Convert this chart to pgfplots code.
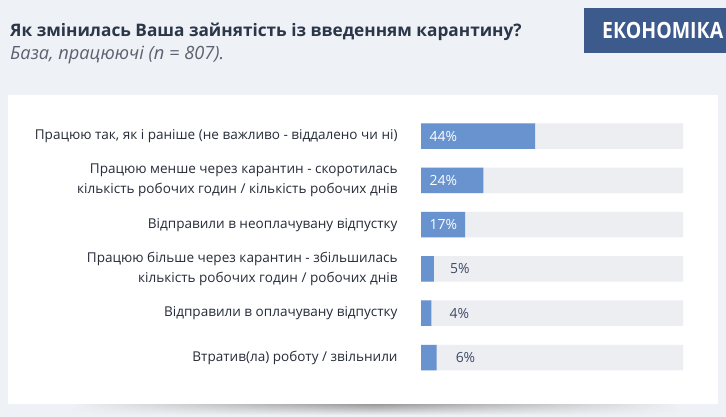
\documentclass[border=0pt]{standalone}
\usepackage{fontspec}
\setmainfont{Open Sans}
\newfontfamily\badgefont[FakeStretch=0.87]{Open Sans}
\usepackage{pgfplots}
\pgfplotsset{compat=1.18}
\usetikzlibrary{fadings}
\definecolor{bg}{HTML}{EEF1F5}
\definecolor{track}{HTML}{ECEEF2}
\definecolor{barblue}{HTML}{6893CE}
\definecolor{badge}{HTML}{3C5A8C}
\definecolor{titlec}{HTML}{2B3648}
\definecolor{subc}{HTML}{5A6270}
\definecolor{labc}{HTML}{262C38}
\definecolor{pctc}{HTML}{3E4A66}
\begin{document}
\begin{tikzpicture}
\useasboundingbox (0,0) rectangle (726bp,417bp);
\fill[bg] (0,0) rectangle (726bp,417bp);
\shade[left color=bg, right color=bg, middle color=black!40, path fading=south] (70bp,2bp) rectangle (680bp,13bp);
\fill[white] (8bp,13bp) rectangle (718bp,322bp);
\fill[badge] (584bp,364bp) rectangle (726bp,409bp);
\node[anchor=west, inner sep=0, text=white] at (602bp,386.5bp) {\badgefont\bfseries\fontsize{22.5}{22}\selectfont ЕКОНОМІКА};
\node[anchor=base west, inner sep=0, text=titlec] at (10bp,380.5bp) {\bfseries\fontsize{17.3}{20}\selectfont Як змінилась Ваша зайнятість із введенням карантину?};
\node[anchor=base west, inner sep=0, text=subc] at (10bp,357.2bp) {\itshape\fontsize{18.3}{20}\selectfont База, працюючі (n = 807).};
\begin{axis}[
  at={(552bp,170.2bp)}, anchor=center,
  scale only axis, width=262bp, height=265.7bp,
  xmin=0, xmax=101, ymin=-0.5, ymax=5.5, y dir=reverse,
  axis line style={draw=none}, tick style={draw=none},
  xtick=\empty, ytick={0,1,2,3,4,5},
  yticklabels={
    {Працюю так, як і раніше (не важливо - віддалено чи ні)},
    {Працюю менше через карантин - скоротилась\\кількість робочих годин / кількість робочих днів},
    {Відправили в неоплачувану відпустку},
    {Працюю більше через карантин - збільшилась\\кількість робочих годин / робочих днів},
    {Відправили в оплачувану відпустку},
    {Втратив(ла) роботу / звільнили}},
  yticklabel style={align=right, inner sep=0pt, xshift=-19bp, text=labc,
    font=\fontsize{13.6}{20.7}\selectfont},
  clip=false,
  xbar, bar width=0.576, bar shift=0,
]
\addplot[fill=track, draw=none] coordinates {(101,0) (101,1) (101,2) (101,3) (101,4) (101,5)};
\addplot[fill=barblue, draw=none] coordinates {(44,0) (24,1) (17,2) (5,3) (4,4) (6,5)};
\begin{scope}[every node/.style={inner sep=0pt, font=\fontsize{14}{14}\selectfont}]
\node[anchor=west, text=white] at (axis cs:0,0) [xshift=8.5bp] {44\%};
\node[anchor=west, text=white] at (axis cs:0,1) [xshift=8.5bp] {24\%};
\node[anchor=west, text=white] at (axis cs:0,2) [xshift=8.5bp] {17\%};
\node[anchor=west, text=pctc] at (axis cs:5,3) [xshift=16bp] {5\%};
\node[anchor=west, text=pctc] at (axis cs:4,4) [xshift=18bp] {4\%};
\node[anchor=west, text=pctc] at (axis cs:6,5) [xshift=19bp] {6\%};
\end{scope}
\end{axis}
\end{tikzpicture}
\end{document}
